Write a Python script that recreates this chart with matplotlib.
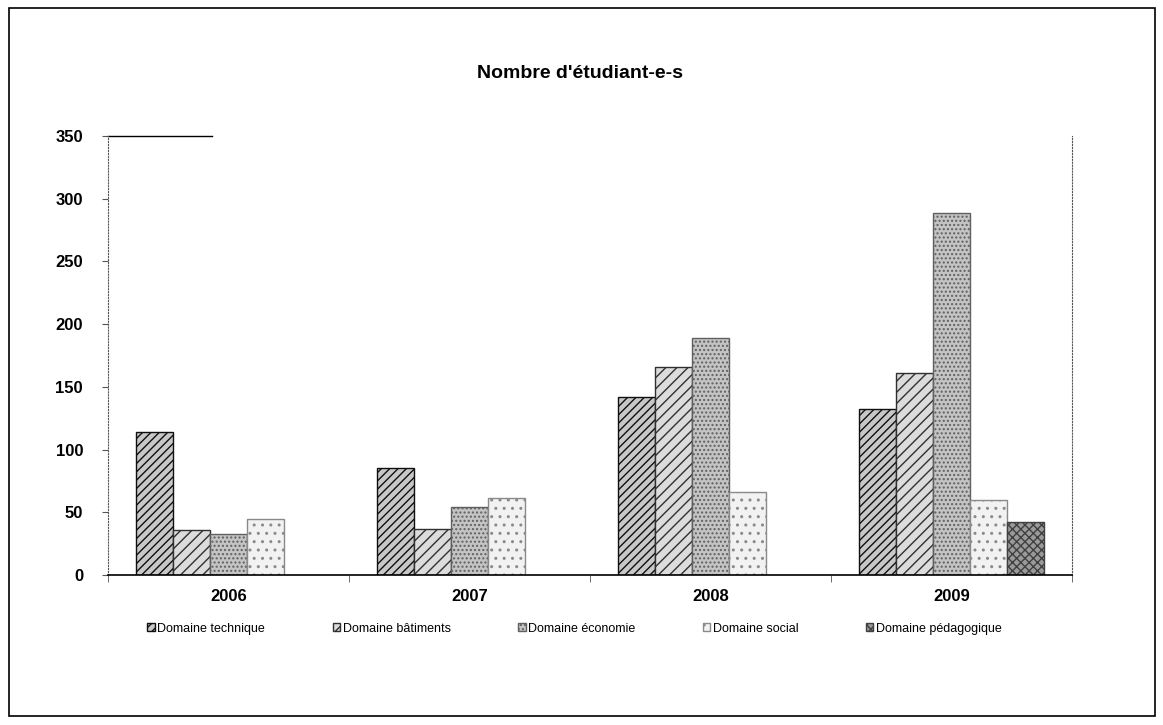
import numpy as np
import matplotlib.pyplot as plt
from matplotlib.patches import Rectangle

# Données
annees = ['2006', '2007', '2008', '2009']
domaines = ['Domaine technique', 'Domaine bâtiments', 'Domaine économie',
            'Domaine social', 'Domaine pédagogique']
technique = [114, 85, 142, 132]
batiments = [36, 37, 166, 161]
economie = [33, 54, 189, 289]
social = [45, 61, 66, 60]
pedagogique = [0, 0, 0, 42]
series = [technique, batiments, economie, social, pedagogique]

# Styles (approximation des textures grises)
faces = ['#c8c8c8', '#dcdcdc', '#c4c4c4', '#f2f2f2', '#9a9a9a']
hatches = ['////', '///', '....', '..', 'xxxx']
edges = ['#101010', '#303030', '#606060', '#8a8a8a', '#404040']

plt.rcParams['font.family'] = ['Liberation Sans', 'DejaVu Sans']

fig = plt.figure(figsize=(11.63, 7.25), dpi=100)
ax = fig.add_axes([0.0929, 0.2069, 0.8288, 0.6055])

x = np.arange(len(annees))
w = 0.154
handles = []
for i, vals in enumerate(series):
    pos = x + (i - 2) * w
    v = np.array(vals, dtype=float)
    mask = v > 0
    b = ax.bar(pos[mask], v[mask], width=w, facecolor=faces[i],
               edgecolor=edges[i], hatch=hatches[i], linewidth=1.0,
               label=domaines[i])
    handles.append(b)

ax.set_xlim(-0.5, 3.5)
ax.set_ylim(0, 350)
ax.set_yticks(np.arange(0, 351, 50))
ax.set_xticks(x)
ax.set_xticklabels(annees, fontsize=12, fontweight='bold')
ax.set_xticks(np.arange(-0.5, 3.6, 1), minor=True)
ax.tick_params(axis='x', which='major', length=0, pad=10)
ax.tick_params(axis='x', which='minor', length=5, color='#555555')
ax.tick_params(axis='y', labelsize=12, length=4, color='#555555', pad=14)
for lab in ax.get_yticklabels():
    lab.set_fontweight('bold')

ax.spines['top'].set_visible(False)
ax.spines['left'].set_linestyle(':')
ax.spines['left'].set_color('#555555')
ax.spines['right'].set_linestyle(':')
ax.spines['right'].set_color('#555555')
ax.spines['bottom'].set_linewidth(1.2)
# petit trait en haut à gauche
ax.plot([-0.5, -0.07], [350, 350], color='black', lw=1, clip_on=False)

fig.text(0.499, 0.898, "Nombre d'étudiant-e-s", ha='center', va='center',
         fontsize=14, fontweight='bold')

fig.legend(handles=handles, labels=domaines, loc='center',
           bbox_to_anchor=(0.494, 0.133), ncol=5, frameon=False,
           fontsize=9, handlelength=0.6, handleheight=0.6,
           handletextpad=0.2, columnspacing=5.4)

# cadre autour de la figure
fig.patches.append(Rectangle((0.008, 0.012), 0.985, 0.977,
                             transform=fig.transFigure, fill=False,
                             edgecolor='black', linewidth=1.2))

fig.savefig('out.png', dpi=100)
